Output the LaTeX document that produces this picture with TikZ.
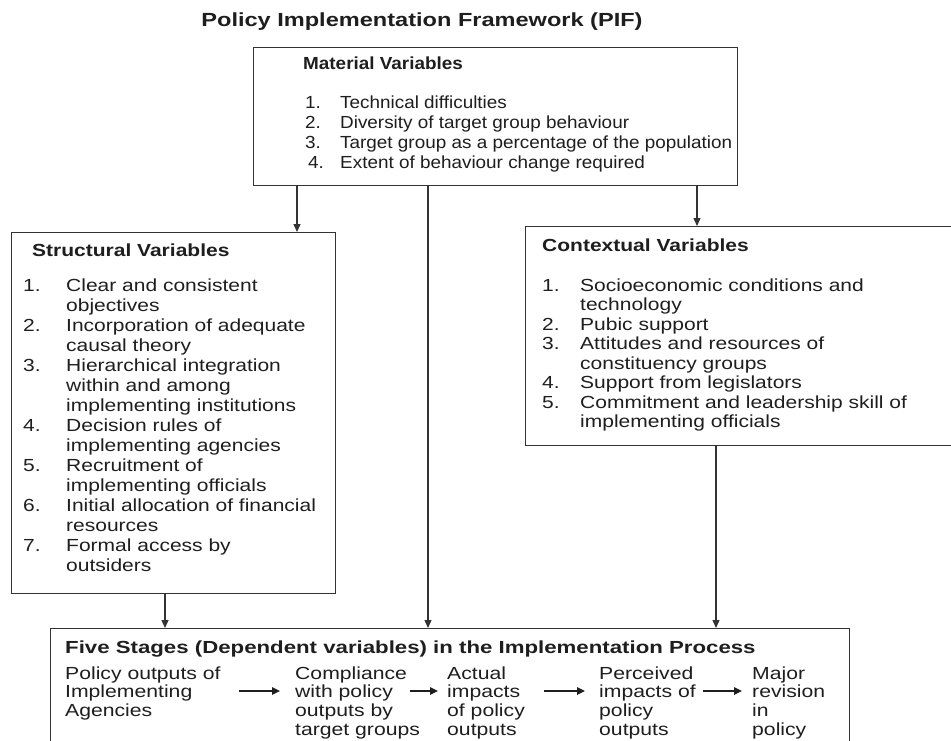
\documentclass[tikz,border=0pt]{standalone}
\usepackage{fontspec}
\setmainfont{Liberation Sans}[FakeStretch=1.2]
\newfontfamily\titlefont{Liberation Sans}[FakeStretch=1.24]
\newfontfamily\matfont{Liberation Sans}[FakeStretch=1.08]
\newfontfamily\stgfont{Liberation Sans}[FakeStretch=1.21]
\newfontfamily\stghfont{Liberation Sans}[FakeStretch=1.27]
\usetikzlibrary{arrows.meta}
\definecolor{ink}{HTML}{1E1E1E}
\definecolor{frame}{HTML}{333333}
\newcommand{\bodysize}{\fontsize{17.5}{20}\selectfont}
\newcommand{\stgcol}[1]{\stgfont\fontsize{17.5}{18.7}\selectfont\begin{tabular}[t]{@{}l@{}}#1\end{tabular}}
\begin{document}
\begin{tikzpicture}[x=1pt,y=-1pt,
  box/.style={draw=frame,line width=1.3pt,anchor=north west,inner sep=0pt},
  hdr/.style={anchor=base west,inner sep=0pt,text=ink,font=\bfseries\fontsize{17.5}{20}\selectfont},
  lst/.style={anchor=base west,inner sep=0pt,text=ink},
  arr/.style={draw=frame,line width=1.3pt,-{Triangle[length=8pt,width=7pt]}},
  sarr/.style={draw=ink,line width=1.6pt,-{Triangle[length=8pt,width=7.5pt]}}
  ]
\useasboundingbox[fill=white] (0,0) rectangle (951,740);

% title
\node[anchor=base,inner sep=0pt,text=ink,font=\titlefont\bfseries\fontsize{19}{22}\selectfont] (title) at (422,26) {Policy Implementation Framework (PIF)};

% boxes
\node[box,minimum width=484pt,minimum height=138pt] (mat) at (253,47) {};
\node[box,minimum width=324pt,minimum height=361pt] (str) at (11,232) {};
\node[box,minimum width=435pt,minimum height=219pt] (ctx) at (525,226) {};
\node[box,minimum width=799pt,minimum height=140pt] (stg) at (50,628) {};

% material
\node[hdr,font=\matfont\bfseries\fontsize{17.5}{20}\selectfont] (matH) at (303,69) {Material Variables};
\node[lst] (matL) at (305,108) {\matfont\bodysize\begin{tabular}[t]{@{}p{35pt}@{}l@{}}
1.&Technical difficulties\\
2.&Diversity of target group behaviour\\
3.&Target group as a percentage of the population\\
\hspace{3pt}4.&Extent of behaviour change required
\end{tabular}};

% structural
\node[hdr] (strH) at (32,256) {Structural Variables};
\node[lst] (strL) at (23,291) {\bodysize\begin{tabular}[t]{@{}p{43pt}@{}l@{}}
1.&Clear and consistent\\
&objectives\\
2.&Incorporation of adequate\\
&causal theory\\
3.&Hierarchical integration\\
&within and among\\
&implementing institutions\\
4.&Decision rules of\\
&implementing agencies\\
5.&Recruitment of\\
&implementing officials\\
6.&Initial allocation of financial\\
&resources\\
7.&Formal access by\\
&outsiders
\end{tabular}};

% contextual
\node[hdr] (ctxH) at (542,251) {Contextual Variables};
\node[lst] (ctxL) at (542,291) {\fontsize{17.5}{19.5}\selectfont\begin{tabular}[t]{@{}p{38pt}@{}l@{}}
1.&Socioeconomic conditions and\\
&technology\\
2.&Pubic support\\
3.&Attitudes and resources of\\
&constituency groups\\
4.&Support from legislators\\
5.&Commitment and leadership skill of\\
&implementing officials
\end{tabular}};

% stages
\node[hdr,font=\stghfont\bfseries\fontsize{17.5}{20}\selectfont] (stgH) at (65,653) {Five Stages (Dependent variables) in the Implementation Process};
\node[lst] (s1) at (65,679) {\stgcol{Policy outputs of\\Implementing\\Agencies}};
\node[lst] (s2) at (295,679) {\stgcol{Compliance\\with policy\\outputs by\\target groups}};
\node[lst] (s3) at (447,679) {\stgcol{Actual\\impacts\\of policy\\outputs}};
\node[lst] (s4) at (599,679) {\stgcol{Perceived\\impacts of\\policy\\outputs}};
\node[lst] (s5) at (752,679) {\stgcol{Major\\revision\\in\\policy}};

% stage arrows
\coordinate (a1s) at (239,691); \coordinate (a1e) at (280,691);
\coordinate (a2s) at (410,691); \coordinate (a2e) at (438,691);
\coordinate (a3s) at (544,691); \coordinate (a3e) at (585,691);
\coordinate (a4s) at (703,691); \coordinate (a4e) at (742,691);
\draw[sarr] (a1s) -- (a1e);
\draw[sarr] (a2s) -- (a2e);
\draw[sarr] (a3s) -- (a3e);
\draw[sarr] (a4s) -- (a4e);

% vertical connectors
\coordinate (xL) at (297,0);
\coordinate (xM) at (428,0);
\coordinate (xR) at (697,0);
\coordinate (xS) at (165,0);
\coordinate (xC) at (716,0);
\draw[arr] (mat.south -| xL) -- (str.north -| xL);
\draw[arr] (mat.south -| xM) -- (stg.north -| xM);
\draw[arr] (mat.south -| xR) -- (ctx.north -| xR);
\draw[arr] (str.south -| xS) -- (stg.north -| xS);
\draw[arr] (ctx.south -| xC) -- (stg.north -| xC);
\end{tikzpicture}
\end{document}
